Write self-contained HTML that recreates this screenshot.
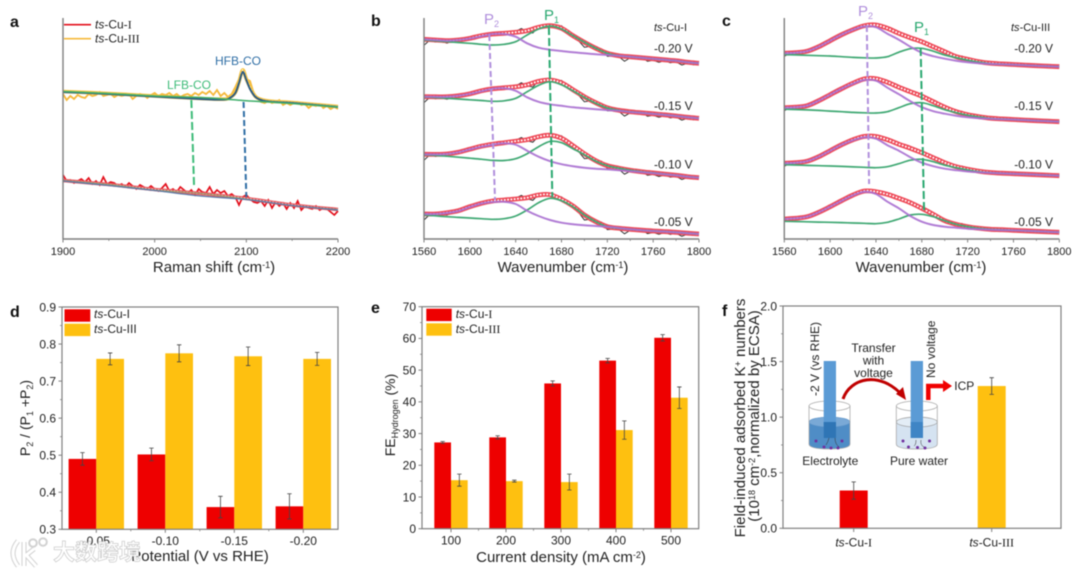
<!DOCTYPE html>
<html lang="en">
<head>
<meta charset="utf-8">
<title>Spectra and bar-chart figure</title>
<style>
html,body{margin:0;padding:0;background:#fff;width:1080px;height:570px;overflow:hidden}
svg{display:block;font-family:"Liberation Sans",sans-serif;fill:#222;filter:blur(0.5px)}
text{font-size:12px}
.tick11{font-size:11px}
.title{font-size:15px}
.title14{font-size:14px}
.panel{font-size:16px;font-weight:bold;fill:#111}
.rom{font-family:"Liberation Serif",serif}
.it{font-style:italic}
</style>
</head>
<body>
<svg id="figure" width="1080" height="570" viewBox="0 0 1080 570" xmlns="http://www.w3.org/2000/svg">
  <g id="a"></g>
  <g id="b"></g>
  <g id="c"></g>
  <g id="d"></g>
  <g id="e"></g>
  <g id="f"></g>

  <g id="inset">
    <g>
      <path d="M809 422V444Q809 449 829.500 449Q850 449 850 444V422Z" fill="#4f8dc6"/>
      <ellipse cx="829.500" cy="422" rx="20.500" ry="5" fill="#7aa9d6" stroke="#5c93c8" stroke-width=".6"/>
      <ellipse cx="829.500" cy="406" rx="20.500" ry="5" fill="none" stroke="#aaa" stroke-width=".8"/>
      <path d="M809 406V444Q809 449 829.500 449Q850 449 850 444V406" fill="none" stroke="#aaa" stroke-width=".8"/>
      <rect x="823.700" y="361" width="12.300" height="77" fill="#5b9bd5"/>
      <rect x="823.700" y="422" width="12.300" height="16" fill="#2f75b5"/>
    </g>
    <g>
      <path d="M896.300 422V444Q896.300 449 916.800 449Q937.300 449 937.300 444V422Z" fill="#d5e3f1"/>
      <ellipse cx="916.800" cy="422" rx="20.500" ry="5" fill="#e3edf6" stroke="#9a9a9a" stroke-width=".7"/>
      <ellipse cx="916.800" cy="406" rx="20.500" ry="5" fill="none" stroke="#aaa" stroke-width=".8"/>
      <path d="M896.300 406V444Q896.300 449 916.800 449Q937.300 449 937.300 444V406" fill="none" stroke="#aaa" stroke-width=".8"/>
      <rect x="910.700" y="361" width="12.300" height="77" fill="#5b9bd5"/>
      <rect x="910.700" y="422" width="12.300" height="16" fill="#3f85c5"/>
    </g>
    <g fill="#7030a0">
      <circle cx="816" cy="441" r="1.500"/><circle cx="824" cy="447" r="1.500"/><circle cx="838" cy="448" r="1.500"/><circle cx="842" cy="441" r="1.500"/><circle cx="831" cy="448" r="1.500"/>
      <circle cx="903" cy="441" r="1.500"/><circle cx="908.500" cy="447" r="1.500"/><circle cx="917.500" cy="447.500" r="1.500"/><circle cx="925" cy="448" r="1.500"/><circle cx="929.500" cy="441" r="1.500"/>
      <path d="M829 438q-1 4-3 7M835 438q0 6 4 9M916 440q0 5-2 6M921 440q-1 5 3 7" fill="none" stroke="#333" stroke-width=".5"/>
    </g>
    <path d="M843 399C850 378 880 370 903 396" fill="none" stroke="#c00000" stroke-width="3"/>
    <path d="M906 400L896 394L903 387Z" fill="#c00000"/>
    <path d="M928.300 400V386H945" fill="none" stroke="#f00000" stroke-width="4.500"/>
    <path d="M952 386L943 380V392Z" fill="#f00000"/>
    <text text-anchor="middle"><tspan x="873.500" y="352">Transfer</tspan><tspan x="873.500" y="364.500">with</tspan><tspan x="873.500" y="377">voltage</tspan></text>
    <text transform="rotate(-90 819 396)" x="819" y="396">-2 V (vs RHE)</text>
    <text transform="rotate(-90 935 378)" x="935" y="378">No voltage</text>
    <text x="954.300" y="390">ICP</text>
    <text x="830.300" y="465" text-anchor="middle">Electrolyte</text>
    <text x="919" y="465" text-anchor="middle">Pure water</text>
  </g>

  <g>
    <text class="panel" x="10" y="27">a</text>
    <text class="panel" x="371" y="26">b</text>
    <text class="panel" x="722" y="26">c</text>
    <text class="panel" x="10" y="317">d</text>
    <text class="panel" x="371" y="313">e</text>
    <text class="panel" x="722" y="316">f</text>
  </g>

  <g>
    <text x="95" y="28.500"><tspan class="it">ts</tspan>-Cu-<tspan class="rom">I</tspan></text>
    <text x="95" y="42.700"><tspan class="it">ts</tspan>-Cu-<tspan class="rom">III</tspan></text>
    <text x="238" y="65" text-anchor="middle" style="fill:#2f6ea5">HFB-CO</text>
    <text x="189" y="89" text-anchor="middle" style="fill:#3dbb78">LFB-CO</text>
    <text class="title" x="214" y="272" text-anchor="middle">Raman shift (cm<tspan dy="-4" font-size="9">-1</tspan><tspan dy="4">)</tspan></text>
  </g>
  <g>
    <text x="484" y="24" style="fill:#b08fdc;font-size:15px">P<tspan dy="3" font-size="9">2</tspan></text>
    <text x="544" y="20" style="fill:#2aa870;font-size:15px">P<tspan dy="3" font-size="9">1</tspan></text>
    <text x="654" y="31" style="font-size:11px"><tspan class="it">ts</tspan>-Cu-I</text>
    <text class="title" x="563" y="272" text-anchor="middle">Wavenumber (cm<tspan dy="-4" font-size="9">-1</tspan><tspan dy="4">)</tspan></text>
  </g>
  <g>
    <text x="858" y="16" style="fill:#b08fdc;font-size:15px">P<tspan dy="3" font-size="9">2</tspan></text>
    <text x="914" y="32" style="fill:#2aa870;font-size:15px">P<tspan dy="3" font-size="9">1</tspan></text>
    <text x="1011" y="31" style="font-size:11px"><tspan class="it">ts</tspan>-Cu-III</text>
    <text class="title" x="921" y="272" text-anchor="middle">Wavenumber (cm<tspan dy="-4" font-size="9">-1</tspan><tspan dy="4">)</tspan></text>
  </g>
  <g>
    <text x="94" y="318"><tspan class="it">ts</tspan>-Cu-I</text>
    <text x="94" y="333"><tspan class="it">ts</tspan>-Cu-III</text>
    <text class="title" x="200" y="561" text-anchor="middle">Potential (V vs RHE)</text>
    <text class="title14" transform="rotate(-90 30 418)" x="30" y="418" text-anchor="middle">P<tspan dy="3" font-size="9">2</tspan><tspan dy="-3"> / (P</tspan><tspan dy="3" font-size="9">1</tspan><tspan dy="-3"> +P</tspan><tspan dy="3" font-size="9">2</tspan><tspan dy="-3">)</tspan></text>
  </g>
  <g>
    <text x="455.700" y="318"><tspan class="it">ts</tspan>-Cu-<tspan class="rom">I</tspan></text>
    <text x="455.700" y="333"><tspan class="it">ts</tspan>-Cu-<tspan class="rom">III</tspan></text>
    <text class="title" x="561" y="562" text-anchor="middle">Current density (mA cm<tspan dy="-4" font-size="9">-2</tspan><tspan dy="4">)</tspan></text>
    <text class="title14" transform="rotate(-90 395 415)" x="395" y="415" text-anchor="middle">FE<tspan dy="3" font-size="9">Hydrogen</tspan><tspan dy="-3"> (%)</tspan></text>
  </g>
  <g>
    <text class="title" transform="rotate(-90 745 418)" x="745" y="418" text-anchor="middle">Field-induced adsorbed K<tspan dy="-4" font-size="9">+</tspan><tspan dy="4"> numbers</tspan></text>
    <text class="title" transform="rotate(-90 759 416)" x="759" y="416" text-anchor="middle">(10<tspan dy="-4" font-size="9">18</tspan><tspan dy="4"> cm</tspan><tspan dy="-4" font-size="9">-2</tspan><tspan dy="4">,normalized by ECSA)</tspan></text>
  </g>

  <g>
    <path d="M18 541Q8 553 18 566M24 542V566M25 556L34 549M27 556L36 566" fill="none" stroke="#d2d2d2" stroke-width="5"/>
    <path d="M18 541Q8 553 18 566M24 542V566M25 556L34 549M27 556L36 566" fill="none" stroke="#fff" stroke-width="3"/>
    <circle cx="33" cy="543" r="3.800" fill="none" stroke="#d2d2d2" stroke-width="2"/>
    <circle cx="43" cy="542" r="3.800" fill="none" stroke="#d2d2d2" stroke-width="2"/>
    <text x="53" y="560" style="font-family:'Liberation Sans','Noto Sans CJK SC',sans-serif;font-size:22px;font-weight:bold;fill:rgba(255,255,255,.92);stroke:#cfcfcf;stroke-width:.8">大数跨境</text>
  </g>
</svg>

<script>
/* ---------- panel a: Raman spectra (intensity a.u.) ---------- */
const ramanRawStart = 1900;
const ramanRawStep = 4;
const ramanRawIII = [145,139,143,140,144,142,141,145,143,144,147,143,144,145,142,144,143,144,145,140,143,145,144,141,144,146,143,145,144,146,143,145,142,144,145,143,146,144,147,145,148,144,149,143,146,142,145,152,160,167,160,158,146,141,137,136,138,136,137,139,134,136,134,136,137,134,135,131,134,133,135,131,133,130,132,130];
const ramanRawI = [64,58,59,56,58,60,57,61,55,58,54,62,55,57,56,53,55,52,56,53,50,54,52,50,53,50,48,51,55,48,50,47,52,49,46,49,44,50,47,46,52,45,49,46,48,43,45,42,34,42,44,40,37,36,38,33,39,31,37,33,36,30,36,31,38,29,33,31,30,33,29,31,30,27,24,28];
const ramanFitXIII = [1900,1950,2000,2050,2075,2082,2088,2092,2096,2100,2104,2110,2118,2130,2150,2200];
const ramanHfbIII = [147,145,142.5,140,139.3,141,146,156,167,159,150,142,138.5,137,136,132];
const ramanTotalIII = [147.5,145.5,143,140.5,139.8,141.5,146.5,157,169,160,152,142.5,139,137.5,136.5,132.5];
const ramanLfbIII = [147.5,145.5,143,141.5,140,139.5,139.1,138.8,138.5,138.3,138,137.7,137.3,136.7,135.5,132];
const ramanFitXI = [1900,1950,2000,2050,2100,2150,2200];
const ramanLfbI = [58.5,54.5,49,45.5,40,33.5,29.5];
const ramanHfbI = [58,53.5,48.5,43,39.5,33.5,29];
const ramanTotalI = [58.5,54.5,49.5,45.5,40.5,34,29.5];
const ramanTicks = [1900,2000,2100,2200];
const ramanMinor = [1950,2050,2150];

/* ---------- panels b, c: ATR spectra, height above each trace's end point ---------- */
const wavenumbers = [1560,1570,1580,1590,1600,1610,1620,1630,1640,1650,1660,1670,1680,1690,1700,1710,1720,1730,1740,1750,1760,1770,1780,1790,1800];
const potentials = ['-0.05 V','-0.10 V','-0.15 V','-0.20 V'];
const specTicks = [1560,1600,1640,1680,1720,1760,1800];
const specMinor = [1580,1620,1660,1700,1740,1780];
const potentialLabelY = [226,168.3,110,52.7];

const offsetsB = [5,61.3,120.7,175.7];
const totalB05 = [20,20,21.3,23.3,27.3,30.7,33,34,35,36.3,39,39.3,34.7,28,19,12.3,7.3,5.7,4.7,3.8,3,2.4,1.7,0.8,0];
const p2B05 = [20,20,21,23,27,30.5,32,32.3,30,23.3,18,14,11.3,9.7,8.7,8,7.3,6,4.7,3.8,3,2.4,1.7,0.8,0];
const p1B05 = [19,18.2,17.3,16.6,16,15.3,14.7,15.3,18,24,31.3,35.7,33.3,27.3,19,12.3,7.3,5.7,4.7,3.8,3,2.4,1.7,0.8,0];
const totalB10 = [23.4,23.3,23.7,25.5,28.5,31.5,33.5,35,36.5,38,41,42.5,39.5,32,24,17,12,9.5,7.5,6,4.8,3.6,2.4,1,0];
const p2B10 = [23.4,23.3,23.7,25.5,28.3,31,33,34.4,33,27,21,16.5,13.5,11.5,10,9,8.3,7.5,6.5,5.6,4.6,3.5,2.4,1,0];
const p1B10 = [23,22.3,21.5,20.5,19.5,18.5,17.3,17.2,19,24,31,36.3,35,29,23,16.5,12,9.5,7.5,6,4.8,3.6,2.4,1,0];
const totalB15 = [21.6,21.5,21.5,22.5,24.5,27.5,29.5,30.5,31.5,33.5,37,38.3,35.5,28.5,21.5,15.5,10.5,8,6.5,5.5,4.5,3.5,2.3,1,0];
const p2B15 = [21.6,21.5,21.5,22.5,24.5,27,29.5,30,27.5,21,16.5,14,12.5,11,10,9,8.2,7.5,6.3,5.4,4.4,3.4,2.3,1,0];
const p1B15 = [21.4,20.8,20,19.3,18.5,17.8,17,17.5,20,26.5,33,36.6,33.5,27.5,21,15,10.3,8,6.5,5.5,4.5,3.5,2.3,1,0];
const totalB20 = [24,23.3,22.6,23.3,25,27.6,29.3,30,31,32.6,36,37.6,35,27.6,21,15,10,7.6,6.5,5.5,4.5,3.5,2.5,1,0];
const p2B20 = [24,23.3,22.6,23.3,24.8,27,29.3,29.3,26.6,20,15.6,13.6,12.3,11,10,9,8.3,7.6,6.5,5.5,4.5,3.5,2.5,1,0];
const p1B20 = [23.3,22.5,21.6,20.8,20,19,18.3,19,21.6,28.3,34.3,37.3,34.3,27.6,21,15,10,7.6,6.5,5.5,4.5,3.5,2.5,1,0];
const noiseB = [-6,-0.5,-2,-1,-2.5,-1,-1,-0.5,-0.5,0,0,0,0,0,0,0.5,1,3,-1,-4,0.5,0.5,0,0,2.5,0.5,-1,-2,-5,-1,-0.5,2,-3,-1.5,-1,-5,-1,-0.5,0.5,-3,-1.5,-3,-1,-2.5,-1,-3.5,-1,-2,-0.5];

const offsetsC = [6.7,63.3,117.3,172.3];
const totalC05 = [13.3,14,15.6,20,25.6,31.6,37.3,41.3,40.6,38,34,29.6,24,18,11.6,8,5.6,4,3,2.6,2,1.5,1,0.5,0];
const p2C05 = [13.3,14,15.6,20,25.6,31.5,37,40.5,38.3,30.6,24,16.3,10.6,7.3,5.6,4.6,3.6,3.1,2.6,2.2,1.9,1.5,1,0.5,0];
const p1C05 = [11,10.8,10.5,10.2,10,9.7,9.3,9,8.6,10,13.3,17.3,18,15.6,11.6,8,5.6,4,3,2.5,2,1.5,1,0.5,0];
const totalC10 = [12.4,13,14.5,19,25,31,36,39.3,39.2,36,31.5,27.5,23,18,13,9,6.5,4.5,3.2,2.5,2,1.5,1,0.5,0];
const p2C10 = [12.4,13,14.5,19,25,31,35.5,38.5,37,30.5,25,18.5,13,9.5,7,5.5,4.2,3.4,2.8,2.3,1.9,1.5,1,0.5,0];
const p1C10 = [11,10.7,10.3,10,9.7,9.3,8.8,8.4,8,9,12,15.5,16.4,14,10.5,8,5.8,4,3,2.4,1.9,1.5,1,0.5,0];
const totalC15 = [14,14.5,16,21,27,33,38.5,42.8,43,39.5,34.5,30,25.5,20,14.5,10,7,5,3.5,2.8,2.2,1.6,1,0.5,0];
const p2C15 = [14,14.5,16,21,27,33,38,41.8,41,34,27.5,20.5,14.5,10.5,8,6,4.5,3.5,3,2.5,2.1,1.6,1,0.5,0];
const p1C15 = [12.5,12.2,11.8,11.3,10.6,10,9.3,8.9,8.7,10,14,18,19,16,12,9,6.5,4.7,3.2,2.6,2.1,1.6,1,0.5,0];
const totalC20 = [13.4,14,15.5,20,26,32,37,41,41.7,38.4,33.4,29,25,20,15,10,7.4,5,3.5,2.8,2.2,1.6,1,0.5,0];
const p2C20 = [13.4,14,15.5,20,26,32,37,40.3,39.5,33,27,20,14,10.5,8,6,4.5,3.5,2.8,2.4,2,1.5,1,0.5,0];
const p1C20 = [12,11.8,11.4,11,10.7,10,9.3,8.9,8.7,10,14.5,18,18.4,15.5,11.7,9,6.5,4.5,3,2.5,2,1.5,1,0.5,0];
const noiseC = [-3,0,0,-0.5,-0.5,0,0,0,0,0,0,0,0,0,0,0,0,0,0.3,0,1.5,0,0.5,0,0,0,-0.3,0,-0.6,0,0,2,0,0,0,-0.5,0,0,-0.2,0,0,-0.5,0,0,0,-0.5,0,0,0];

/* guide lines: wavenumber and height at each end */
const guideRamanLfb = [2040,139,2043,52];
const guideRamanHfb = [2097,137,2100,42];
const guideBP2 = [1617,204,1622,39];
const guideBP1 = [1669,212,1672,42];
const guideCP2 = [1632,213,1634,55];
const guideCP1 = [1679,191,1682,26];

/* ---------- panels d, e, f: bars ---------- */
const ratioCategories = ['-0.05','-0.10','-0.15','-0.20'];
const ratioI = [0.49,0.502,0.36,0.362];
const ratioIErr = [0.017,0.017,0.029,0.034];
const ratioIII = [0.76,0.775,0.767,0.76];
const ratioIIIErr = [0.016,0.023,0.025,0.0175];
const ratioTicks = ['0.3','0.4','0.5','0.6','0.7','0.8','0.9'];

const feCategories = ['100','200','300','400','500'];
const feI = [27.2,28.8,45.8,53,60.2];
const feIErr = [0.3,0.5,0.8,0.7,1];
const feIII = [15.3,15,14.7,31.1,41.3];
const feIIIErr = [1.9,0.3,2.5,2.9,3.4];
const feTicks = ['0','10','20','30','40','50','60','70'];

const kCategories = ['ts-Cu-I','ts-Cu-III'];
const kValues = [0.34,1.28];
const kErr = [0.078,0.075];
const kTicks = ['0.0','0.5','1.0','1.5','2.0'];

const RED = '#ee0000';
const YELLOW = '#fec010';
const AXIS = '#7f7f7f';
const NS = 'http://www.w3.org/2000/svg';

function linear(d0, d1, r0, r1) {
  return function (v) { return r0 + (v - d0) * (r1 - r0) / (d1 - d0); };
}
function add(parent, tag, attrs, txt) {
  const n = document.createElementNS(NS, tag);
  for (const k in attrs) n.setAttribute(k, attrs[k]);
  if (txt !== undefined) n.textContent = txt;
  parent.appendChild(n);
  return n;
}
function smooth(pts) {
  let d = 'M' + pts[0][0].toFixed(2) + ' ' + pts[0][1].toFixed(2);
  for (let i = 0; i < pts.length - 1; i++) {
    const p0 = pts[Math.max(i - 1, 0)], p1 = pts[i], p2 = pts[i + 1], p3 = pts[Math.min(i + 2, pts.length - 1)];
    const c1x = p1[0] + (p2[0] - p0[0]) / 6, c1y = p1[1] + (p2[1] - p0[1]) / 6;
    const c2x = p2[0] - (p3[0] - p1[0]) / 6, c2y = p2[1] - (p3[1] - p1[1]) / 6;
    d += 'C' + c1x.toFixed(2) + ' ' + c1y.toFixed(2) + ' ' + c2x.toFixed(2) + ' ' + c2y.toFixed(2) + ' ' + p2[0].toFixed(2) + ' ' + p2[1].toFixed(2);
  }
  return d;
}
function jagged(pts) {
  return 'M' + pts.map(function (p) { return p[0].toFixed(2) + ' ' + p[1].toFixed(2); }).join('L');
}
function zip(xs, ys, sx, sy, off) {
  return xs.map(function (x, i) { return [sx(x), sy(ys[i] + (off || 0))]; });
}
function bottomTicks(g, sx, y, majors, minors, labels, labelY, cls) {
  majors.forEach(function (v, i) {
    const t = add(g, 'line', { x1: sx(v), x2: sx(v), y1: y, y2: y + 3.5, stroke: AXIS, 'stroke-width': 1 });
    
    
    const l = add(g, 'text', { x: sx(v), y: labelY, 'text-anchor': 'middle', class: cls || '' }, labels[i]);
    
    
  });
  minors.forEach(function (v) {
    const t = add(g, 'line', { x1: sx(v), x2: sx(v), y1: y, y2: y + 2, stroke: AXIS, 'stroke-width': 0.8 });
    
    
  });
}
function leftTicks(g, sy, x, majors, minors, labels) {
  majors.forEach(function (v, i) {
    const t = add(g, 'line', { x1: x - 3.5, x2: x, y1: sy(v), y2: sy(v), stroke: AXIS, 'stroke-width': 1 });
    
    
    const l = add(g, 'text', { x: x - 6, y: sy(v) + 4.3, 'text-anchor': 'end' }, labels[i]);
    
    
  });
  minors.forEach(function (v) {
    const t = add(g, 'line', { x1: x - 2, x2: x, y1: sy(v), y2: sy(v), stroke: AXIS, 'stroke-width': 0.8 });
    
    
  });
}
function axesLines(g, x0, x1, y0, y1) {
  const a = add(g, 'path', { d: 'M' + x0 + ' ' + y1 + 'V' + y0 + 'H' + x1, fill: 'none', stroke: AXIS, 'stroke-width': 1.4 });
  
  
}
function frame(g, x0, x1, y0, y1) {
  const r = add(g, 'rect', { x: x0, y: y1, width: x1 - x0, height: y0 - y1, fill: 'none', stroke: AXIS, 'stroke-width': 1.2 });
  
  
}
function guide(g, arr, sx, sy, color, dash) {
  const l = add(g, 'line', { x1: sx(arr[0]), y1: sy(arr[1]), x2: sx(arr[2]), y2: sy(arr[3]), stroke: color, 'stroke-width': 2, 'stroke-dasharray': dash });
  
  
}

/* panel a */
(function () {
  const g = document.getElementById('a');
  const sx = linear(1900, 2200, 63, 338);
  const sy = linear(0, 221, 239, 18);
  const rawX = ramanRawI.map(function (_, i) { return ramanRawStart + i * ramanRawStep; });

  const rawA = add(g, 'path', { d: jagged(zip(rawX, ramanRawIII, sx, sy)), fill: 'none', stroke: '#f6b93b', 'stroke-width': 1.8 });
  
  
  const bandA = add(g, 'path', { d: smooth(zip(ramanFitXIII, ramanTotalIII, sx, sy)), fill: 'none', stroke: '#f6c443', 'stroke-width': 3.6 });
  
  
  const dotsA = add(g, 'path', { d: smooth(zip(ramanFitXIII, ramanTotalIII, sx, sy)), fill: 'none', stroke: '#fff', 'stroke-width': 1.4, 'stroke-linecap': 'round', 'stroke-dasharray': '0 3.2' });
  
  
  const hfbA = add(g, 'path', { d: smooth(zip(ramanFitXIII, ramanHfbIII, sx, sy)), fill: 'none', stroke: '#2a5a85', 'stroke-width': 1.9 });
  
  
  const lfbA = add(g, 'path', { d: smooth(zip(ramanFitXIII, ramanLfbIII, sx, sy)), fill: 'none', stroke: '#3fae6a', 'stroke-width': 1.5 });
  
  

  const rawB = add(g, 'path', { d: jagged(zip(rawX, ramanRawI, sx, sy)), fill: 'none', stroke: '#e3101c', 'stroke-width': 1.7 });
  
  
  const bandB = add(g, 'path', { d: smooth(zip(ramanFitXI, ramanTotalI, sx, sy)), fill: 'none', stroke: '#e85a60', 'stroke-width': 3.6 });
  
  
  const dotsB = add(g, 'path', { d: smooth(zip(ramanFitXI, ramanTotalI, sx, sy)), fill: 'none', stroke: '#fff', 'stroke-width': 1.4, 'stroke-linecap': 'round', 'stroke-dasharray': '0 3.2' });
  
  
  const lfbB = add(g, 'path', { d: smooth(zip(ramanFitXI, ramanLfbI, sx, sy)), fill: 'none', stroke: '#8fa56f', 'stroke-width': 1 });
  
  
  const hfbB = add(g, 'path', { d: smooth(zip(ramanFitXI, ramanHfbI, sx, sy)), fill: 'none', stroke: '#5a7aa8', 'stroke-width': 1.3 });
  
  

  guide(g, guideRamanLfb, sx, sy, '#3dbb78', '8 3');
  guide(g, guideRamanHfb, sx, sy, '#2f6ea5', '6 3');
  axesLines(g, 63, 338, 239, 18);
  bottomTicks(g, sx, 239, ramanTicks, ramanMinor, ramanTicks.map(String), 255, 'tick11');

  const l1 = add(g, 'line', { x1: 64, x2: 91, y1: 24.7, y2: 24.7, stroke: '#e3101c', 'stroke-width': 1.6 });
  
  
  const l2 = add(g, 'line', { x1: 64, x2: 91, y1: 38.7, y2: 38.7, stroke: '#f6b93b', 'stroke-width': 1.6 });
  
  
})();

/* panels b and c */
function drawSpectra(id, x0, offsets, totals, p2s, p1s, noise, guides) {
  const g = document.getElementById(id);
  const sx = linear(1560, 1800, x0, x0 + 275);
  const sy = linear(0, 221, 239, 18);
  const labelX = sx(1560) + 230;
  offsets.forEach(function (off, i) {
    const total = totals[i];
    const rawPts = noise.map(function (n, k) {
      const w = 1560 + k * 5;
      const idx = Math.min(Math.floor((w - 1560) / 10), total.length - 2);
      const f = (w - wavenumbers[idx]) / 10;
      return [sx(w), sy(off + total[idx] + (total[idx + 1] - total[idx]) * f + n)];
    });
    const raw = add(g, 'path', { d: jagged(rawPts), fill: 'none', stroke: '#222', 'stroke-width': 0.9 });
    
    
    const d = smooth(zip(wavenumbers, total, sx, sy, off));
    const band = add(g, 'path', { d: d, fill: 'none', stroke: '#ee4a58', 'stroke-width': 4.8 });
    
    
    const dots = add(g, 'path', { d: d, fill: 'none', stroke: '#fff', 'stroke-width': 2, 'stroke-linecap': 'round', 'stroke-dasharray': '0 3.3' });
    
    
    const p1 = add(g, 'path', { d: smooth(zip(wavenumbers, p1s[i], sx, sy, off)), fill: 'none', stroke: '#3fa873', 'stroke-width': 1.7 });
    
    
    const p2 = add(g, 'path', { d: smooth(zip(wavenumbers, p2s[i], sx, sy, off)), fill: 'none', stroke: '#a86fd0', 'stroke-width': 2, 'stroke-opacity': 0.9 });
    
    
    const lab = add(g, 'text', { x: labelX, y: potentialLabelY[i] }, potentials[i]);
    
    
  });
  guide(g, guides[0], sx, sy, '#b08fdc', '6 3');
  guide(g, guides[1], sx, sy, '#2aa870', '8 3');
  axesLines(g, x0, x0 + 275, 239, 18);
  bottomTicks(g, sx, 239, specTicks, specMinor, specTicks.map(String), 255, 'tick11');
}
drawSpectra('b', 424, offsetsB, [totalB05, totalB10, totalB15, totalB20], [p2B05, p2B10, p2B15, p2B20], [p1B05, p1B10, p1B15, p1B20], noiseB, [guideBP2, guideBP1]);
drawSpectra('c', 784.3, offsetsC, [totalC05, totalC10, totalC15, totalC20], [p2C05, p2C10, p2C15, p2C20], [p1C05, p1C10, p1C15, p1C20], noiseC, [guideCP2, guideCP1]);

/* bar panels */
function errorBar(g, x, sy, v, e) {
  const bar = add(g, 'path', {
    d: 'M' + (x - 2.2) + ' ' + sy(v + e) + 'H' + (x + 2.2) + 'M' + x + ' ' + sy(v + e) + 'V' + sy(v - e) + 'M' + (x - 2.2) + ' ' + sy(v - e) + 'H' + (x + 2.2),
    fill: 'none', stroke: '#444', 'stroke-width': 0.8
  });
  
  
}
function legendSwatches(g, x, w, y1, y2) {
  const a = add(g, 'rect', { x: x, y: y1, width: w, height: 12.4, fill: RED });
  
  
  const b = add(g, 'rect', { x: x, y: y2, width: w, height: 12.4, fill: YELLOW });
  
  
}
function pairedBars(g, cats, centers, sy, base, w, s1, e1, s2, e2) {
  cats.forEach(function (c, i) {
    const cx = centers(i);
    const a = add(g, 'rect', { x: cx - w, y: sy(s1[i]), width: w, height: sy(base) - sy(s1[i]), fill: RED });
    
    
    const b = add(g, 'rect', { x: cx, y: sy(s2[i]), width: w, height: sy(base) - sy(s2[i]), fill: YELLOW });
    
    
    errorBar(g, cx - w / 2, sy, s1[i], e1[i]);
    errorBar(g, cx + w / 2, sy, s2[i], e2[i]);
  });
}

/* panel d */
(function () {
  const g = document.getElementById('d');
  const sy = linear(0.3, 0.9, 529.3, 307);
  const sc = linear(0, 3, 96.3, 303.3);
  pairedBars(g, ratioCategories, sc, sy, 0.3, 27.7, ratioI, ratioIErr, ratioIII, ratioIIIErr);
  frame(g, 62, 338, 529.3, 307);
  const majors = ratioTicks.map(Number);
  leftTicks(g, sy, 62, majors, majors.slice(0, -1).map(function (v) { return v + 0.05; }), ratioTicks);
  bottomTicks(g, sc, 529.3, ratioCategories.map(function (_, i) { return i; }), [0.5, 1.5, 2.5], ratioCategories, 545);
  legendSwatches(g, 64.5, 25.8, 309.3, 323.7);
})();

/* panel e */
(function () {
  const g = document.getElementById('e');
  const sy = linear(0, 70, 528.7, 306.7);
  const sc = linear(0, 4, 451, 671);
  pairedBars(g, feCategories, sc, sy, 0, 16.7, feI, feIErr, feIII, feIIIErr);
  frame(g, 422, 698.7, 528.7, 306.7);
  const majors = feTicks.map(Number);
  leftTicks(g, sy, 422, majors, majors.slice(0, -1).map(function (v) { return v + 5; }), feTicks);
  bottomTicks(g, sc, 528.7, feCategories.map(function (_, i) { return i; }), [0.5, 1.5, 2.5, 3.5], feCategories, 544.5);
  legendSwatches(g, 426.3, 25.4, 308.7, 323.3);
})();

/* panel f */
(function () {
  const g = document.getElementById('f');
  const sy = linear(0, 2, 528.3, 306);
  const sc = linear(0, 1, 853.7, 991.7);
  const w = 28;
  const colors = [RED, YELLOW];
  kCategories.forEach(function (c, i) {
    const b = add(g, 'rect', { x: sc(i) - w / 2, y: sy(kValues[i]), width: w, height: sy(0) - sy(kValues[i]), fill: colors[i] });
    
    
    errorBar(g, sc(i), sy, kValues[i], kErr[i]);
    const t = add(g, 'line', { x1: sc(i), x2: sc(i), y1: 528.3, y2: 532, stroke: AXIS, 'stroke-width': 1 });
    
    
    const parts = c.split('-');
    const l = add(g, 'text', { x: sc(i), y: 546.7, 'text-anchor': 'middle' });
    
    
    add(l, 'tspan', { class: 'it' }, parts[0]);
    add(l, 'tspan', {}, '-' + parts[1] + '-');
    add(l, 'tspan', { class: 'rom' }, parts[2]);
  });
  frame(g, 783, 1061, 528.3, 306);
  const majors = kTicks.map(Number);
  leftTicks(g, sy, 783, majors, majors.slice(0, -1).map(function (v) { return v + 0.25; }), kTicks);
})();
</script>
</body>
</html>
